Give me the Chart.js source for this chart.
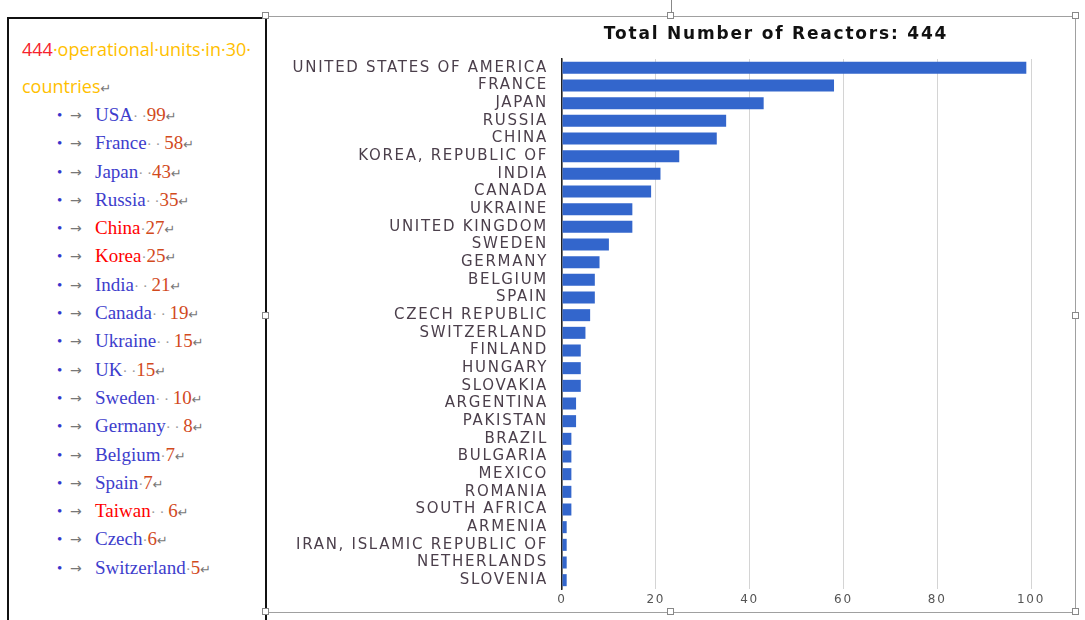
<!DOCTYPE html>
<html>
<head>
<meta charset="utf-8">
<script src="https://cdn.jsdelivr.net/npm/chart.js@4"></script>
<style>
    body { margin: 0; width: 1085px; height: 620px; overflow: hidden; background: #fff; position: relative; }
    .box { position: absolute; left: 7px; top: 17px; width: 256px; height: 620px; border: 2px solid #111; border-bottom: none; }
    .head { position: absolute; left: 22px; top: 31px; font: 18px 'Open Sans', sans-serif; line-height: 37px; color: #ffc000; white-space: nowrap; }
    .head .red { color: #f5222d; }
    .list { position: absolute; left: 0; top: 101px; }
    .item { position: relative; height: 28.3px; white-space: nowrap; font: 19px 'Liberation Serif', serif; line-height: 28.3px; }
    .bul { position: absolute; left: 57px; top: 0; font-size: 15px; color: #3535cc; }
    .tab { position: absolute; left: 70px; top: 0; font: 14px 'DejaVu Sans', sans-serif; line-height: 28.3px; color: #777; }
    .name { margin-left: 95px; color: #3d3dcc; }
    .name.hot { color: #ff0000; }
    .dot { color: #999; font-size: 15px; }
    .num { color: #d24a1d; }
    .ret { color: #777; font: 13px 'DejaVu Sans', sans-serif; }
    .frame { position: absolute; left: 266px; top: 16px; width: 809px; height: 595px; border: 1px solid #a0a0a0; border-left: none; }
    .title { position: absolute; left: 576px; top: 24px; width: 400px; text-align: center; font: bold 17px 'DejaVu Sans', sans-serif; line-height: 18px; letter-spacing: 1.8px; color: #111; }
    .handle { position: absolute; width: 7px; height: 7px; margin: -4px 0 0 -4px; border: 1px solid #888; background: #fff; box-sizing: border-box; }
    .rot { position: absolute; left: 671px; top: 0; width: 1px; height: 12px; background: #888; }
    canvas { position: absolute; left: 267px; top: 17px; }
</style>
</head>
<body>
<div class="box"></div>
<div class="head"><span class="red">444</span>·operational·units·in·30·<br>countries<span class="ret">↵</span></div>
<div class="list"></div>

<div class="frame"></div>
<canvas id="myChart" width="808" height="595"></canvas>
<div class="title">Total Number of Reactors: 444</div>
<div class="rot"></div>

<script>
'use strict'

const countries = ['UNITED STATES OF AMERICA', 'FRANCE', 'JAPAN', 'RUSSIA', 'CHINA', 'KOREA, REPUBLIC OF',
    'INDIA', 'CANADA', 'UKRAINE', 'UNITED KINGDOM', 'SWEDEN', 'GERMANY', 'BELGIUM', 'SPAIN',
    'CZECH REPUBLIC', 'SWITZERLAND', 'FINLAND', 'HUNGARY', 'SLOVAKIA', 'ARGENTINA', 'PAKISTAN',
    'BRAZIL', 'BULGARIA', 'MEXICO', 'ROMANIA', 'SOUTH AFRICA', 'ARMENIA', 'IRAN, ISLAMIC REPUBLIC OF',
    'NETHERLANDS', 'SLOVENIA']
const reactors = [99, 58, 43, 35, 33, 25, 21, 19, 15, 15, 10, 8, 7, 7, 6, 5, 4, 4, 4, 3, 3,
    2, 2, 2, 2, 2, 1, 1, 1, 1]
const xTicks = [0, 20, 40, 60, 80, 100]

// the word list on the left
const listNames = ['USA', 'France', 'Japan', 'Russia', 'China', 'Korea', 'India', 'Canada', 'Ukraine',
    'UK', 'Sweden', 'Germany', 'Belgium', 'Spain', 'Taiwan', 'Czech', 'Switzerland']
const listCounts = [99, 58, 43, 35, 27, 25, 21, 19, 15, 15, 10, 8, 7, 7, 6, 6, 5]
const listGaps = ['·\u00a0·', '·\u00a0·\u00a0', '·\u00a0·', '·\u00a0·', '·', '·', '·\u00a0·\u00a0', '·\u00a0·\u00a0',
    '·\u00a0·\u00a0', '·\u00a0·', '·\u00a0·\u00a0', '·\u00a0·\u00a0', '·', '·', '·\u00a0·\u00a0', '·', '·']
const listHot = ['China', 'Korea', 'Taiwan']

function renderList() {
    const elList = document.querySelector('.list')
    elList.innerHTML = listNames.map((name, idx) => `<div class="item"><span class="bul">•</span>` +
        `<span class="tab">→</span><span class="name ${listHot.includes(name) ? 'hot' : ''}">${name}</span>` +
        `<span class="dot">${listGaps[idx]}</span><span class="num">${listCounts[idx]}</span>` +
        `<span class="ret">↵</span></div>`).join('')
}

function renderHandles() {
    const spots = [[266, 16], [671, 16], [1076, 16], [266, 316], [1076, 316], [266, 612], [671, 612], [1076, 612]]
    spots.forEach(([x, y]) => {
        const el = document.createElement('div')
        el.className = 'handle'
        el.style.left = x + 'px'
        el.style.top = y + 'px'
        document.body.appendChild(el)
    })
}

function renderChart() {
    const ctx = document.getElementById('myChart')
    new Chart(ctx, {
        type: 'bar',
        data: {
            labels: countries,
            datasets: [{
                data: reactors,
                backgroundColor: '#3366cc',
                barPercentage: 0.68,
                categoryPercentage: 1
            }]
        },
        options: {
            indexAxis: 'y',
            responsive: false,
            animation: false,
            layout: { padding: { top: 42, right: 44 } },
            plugins: {
                legend: { display: false }
            },
            scales: {
                x: {
                    min: xTicks[0],
                    max: xTicks[xTicks.length - 1],
                    afterBuildTicks: scale => { scale.ticks = xTicks.map(value => ({ value })) },
                    afterFit: scale => { scale.height = 23 },
                    ticks: { color: '#555', padding: 4, font: { family: 'DejaVu Sans', size: 12 } },
                    grid: { color: '#d4d4d4', drawTicks: false },
                    border: { display: false }
                },
                y: {
                    afterFit: scale => { scale.width = 295 },
                    ticks: { color: '#4b3f4b', padding: 14, autoSkip: false, font: { family: 'DejaVu Sans', size: 15 } },
                    grid: { color: 'rgba(0,0,0,0)', drawTicks: false },
                    border: { color: '#222', width: 1.5 }
                }
            }
        },
        plugins: [{
            id: 'wideText',
            beforeDraw(chart) { chart.ctx.letterSpacing = '1.7px' }
        }]
    })
}

renderList()
renderHandles()
renderChart()
</script>
</body>
</html>
